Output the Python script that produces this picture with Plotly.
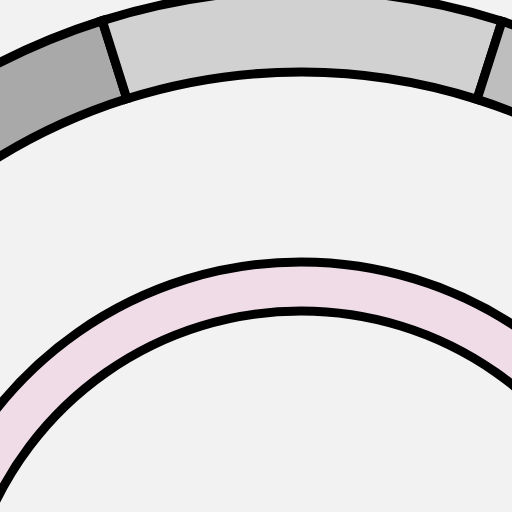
import plotly.graph_objects as go

# ---- data (angles in degrees, counter-clockwise from east) ----
outer_names = ["low", "mid", "high"]
outer_from = [107.5, 72.3, 30.0]
outer_to = [150.0, 107.5, 72.3]
outer_colors = ["#a9a9a9", "#d1d1d1", "#bebebe"]

inner_names = ["value"]
inner_from = [20.0]
inner_to = [160.0]
inner_colors = ["#efdce7"]

# ---- layout constants (px) ----
R_PX = 680                  # polar radius in px
W, H = 2 * R_PX, R_PX       # half-disc sector [0, 180]
PAGE_CX, PAGE_CY = 301, 651  # where the circle centre sits in the page
OUTER_BASE, OUTER_LEN = 579, 82
INNER_BASE, INNER_LEN = 340, 49
LINE_W = 9
BG = "#f2f2f2"

fig = go.Figure()
fig.add_trace(go.Barpolar(
    theta=[(a + b) / 2 for a, b in zip(outer_from, outer_to)],
    width=[b - a for a, b in zip(outer_from, outer_to)],
    r=[OUTER_LEN] * len(outer_names),
    base=[OUTER_BASE] * len(outer_names),
    text=outer_names,
    marker=dict(color=outer_colors, line=dict(color="black", width=LINE_W)),
    showlegend=False, hoverinfo="text",
))
fig.add_trace(go.Barpolar(
    theta=[(a + b) / 2 for a, b in zip(inner_from, inner_to)],
    width=[b - a for a, b in zip(inner_from, inner_to)],
    r=[INNER_LEN] * len(inner_names),
    base=[INNER_BASE] * len(inner_names),
    text=inner_names,
    marker=dict(color=inner_colors, line=dict(color="black", width=LINE_W)),
    showlegend=False, hoverinfo="text",
))

fig.update_layout(
    width=W, height=H,
    margin=dict(l=0, r=0, t=0, b=0, pad=0),
    paper_bgcolor=BG, plot_bgcolor=BG,
    polar=dict(
        domain=dict(x=[0, 1], y=[0, 1]),
        sector=[0, 180],
        hole=0,
        bgcolor=BG,
        barmode="overlay",
        radialaxis=dict(visible=False, range=[0, R_PX], showgrid=False),
        angularaxis=dict(visible=False, showgrid=False, rotation=0,
                         direction="counterclockwise"),
    ),
)

# place the (large) figure so that only the zoomed region is in view
post = (
    "var gd=document.getElementById('{plot_id}');"
    "document.documentElement.style.background='%s';"
    "document.body.style.margin='0';"
    "document.body.style.overflow='hidden';"
    "gd.style.position='absolute';"
    "gd.style.left='%dpx';gd.style.top='%dpx';"
) % (BG, PAGE_CX - R_PX, PAGE_CY - R_PX)

fig.write_html("out.html", post_script=post)
